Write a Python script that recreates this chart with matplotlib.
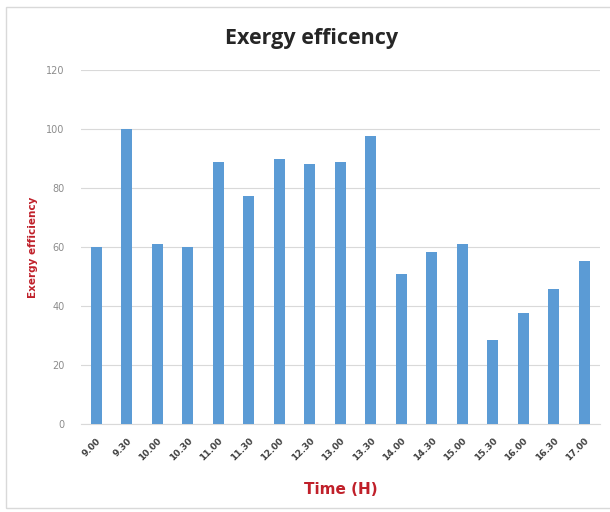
import matplotlib
matplotlib.use("Agg")
import matplotlib.pyplot as plt
import numpy as np

times = ['9.00', '9.30', '10.00', '10.30', '11.00', '11.30', '12.00', '12.30', '13.00',
         '13.30', '14.00', '14.30', '15.00', '15.30', '16.00', '16.30', '17.00']
exergy = [60, 100, 61, 60, 89, 77.3, 90, 88, 88.8, 97.6, 51, 58.3, 61, 28.5, 37.6, 45.8, 55.3]

fig = plt.figure(figsize=(6.1, 5.12), dpi=100)
ax = fig.add_axes([0.133, 0.172, 0.85, 0.691])

x = np.arange(len(times))
ax.bar(x, exergy, width=0.36, color='#5B9BD5', zorder=3)

ax.set_xlim(-0.5, len(times) - 0.5)
ax.set_ylim(0, 120)
ax.set_yticks(np.arange(0, 121, 20))
ax.yaxis.grid(True, color='#d9d9d9', linewidth=0.8, zorder=0)
for s in ['top', 'right', 'left']:
    ax.spines[s].set_visible(False)
ax.spines['bottom'].set_color('#d9d9d9')
ax.tick_params(axis='both', length=0)
ax.tick_params(axis='y', labelsize=7, labelcolor='#8c8c8c', pad=12)
ax.set_xticks(x)
ax.set_xticklabels(times, rotation=45, fontsize=6.5, fontweight='bold', color='#404040',
                   ha='right', rotation_mode='anchor')
ax.tick_params(axis='x', pad=9)

ax.set_ylabel('Exergy efficiency', color='#c0202a', fontsize=7.5, fontweight='bold', labelpad=6)
ax.set_xlabel('Time (H)', color='#c0202a', fontsize=11, fontweight='bold', labelpad=14)
fig.suptitle('Exergy efficency', fontsize=15.5, fontweight='bold', family='Open Sans',
             color='#262626', y=0.945, x=0.51)

border = plt.Rectangle((0.01, 0.008), 1.2, 0.978, transform=fig.transFigure,
                       fill=False, edgecolor='#d9d9d9', linewidth=1)
fig.patches.append(border)

fig.savefig('out.png', dpi=100)
